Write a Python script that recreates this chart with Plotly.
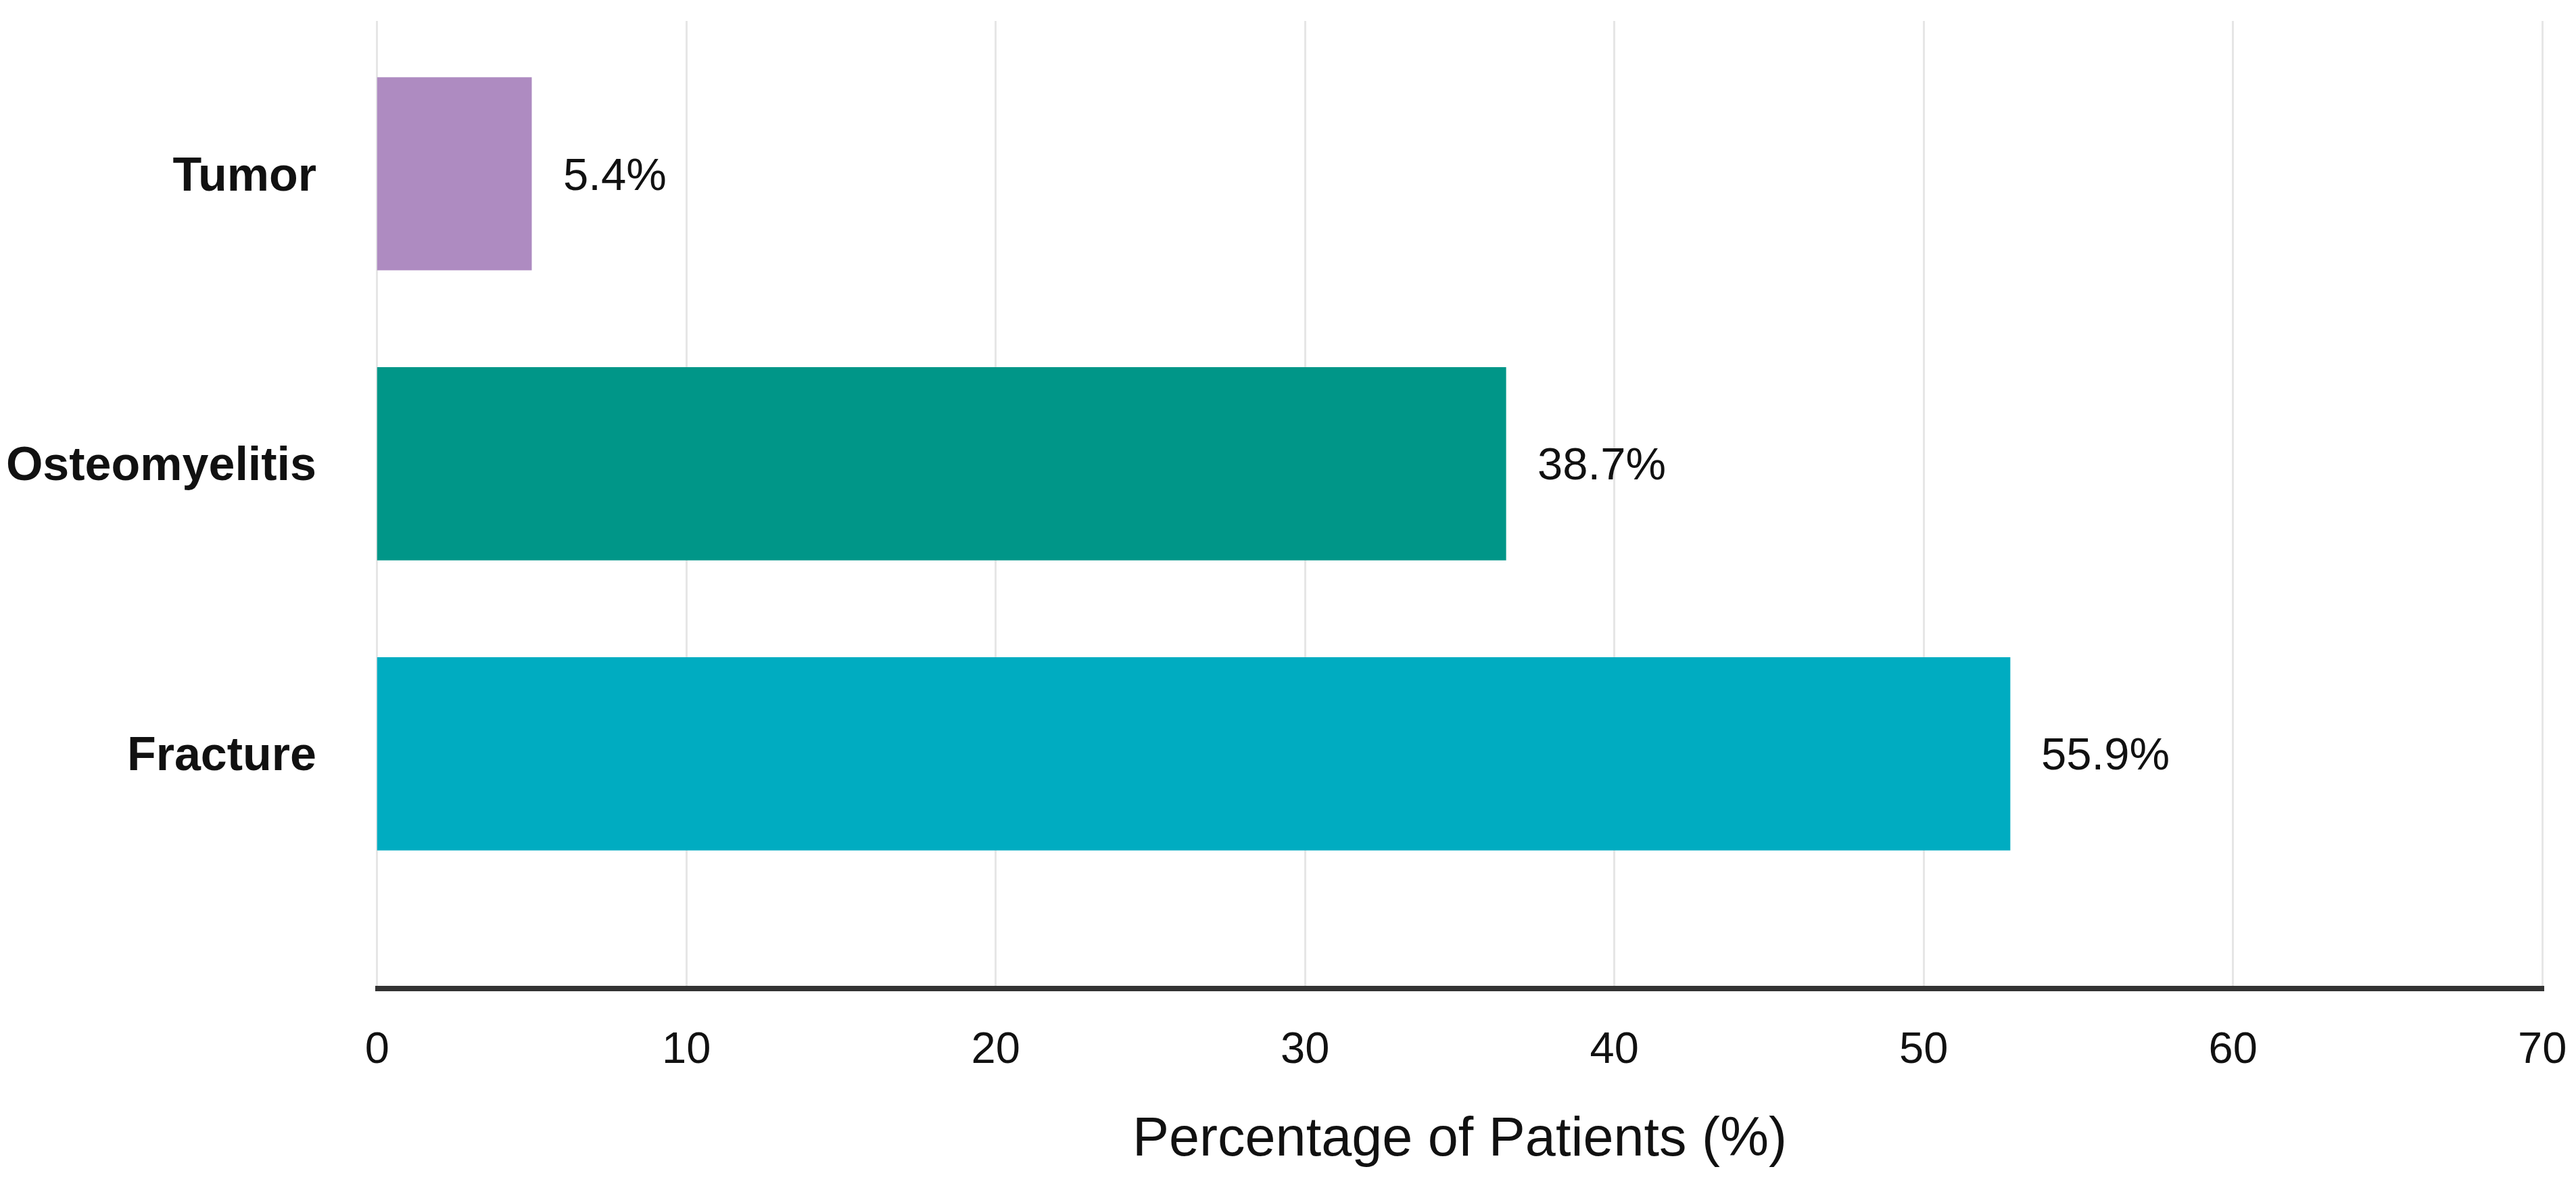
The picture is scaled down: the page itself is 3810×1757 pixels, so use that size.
import plotly.graph_objects as go

categories = ["Fracture", "Osteomyelitis", "Tumor"]
bar_values = [52.8, 36.5, 5.0]
value_labels = ["55.9%", "38.7%", "5.4%"]
bar_colors = ["#00ACC1", "#009688", "#AE8BC1"]
x_ticks = [0, 10, 20, 30, 40, 50, 60, 70]

FONT = "Liberation Sans, Arial, sans-serif"

fig = go.Figure()
fig.add_trace(go.Bar(
    y=categories,
    x=bar_values,
    orientation="h",
    marker=dict(color=bar_colors, line=dict(width=0)),
    width=0.666,
    hoverinfo="skip",
    showlegend=False,
))

for cat, v, lab in zip(categories, bar_values, value_labels):
    fig.add_annotation(
        x=v, y=cat, text=lab, showarrow=False,
        xanchor="left", yanchor="middle", xshift=44,
        font=dict(family=FONT, size=67, color="#111111"),
    )

fig.update_layout(
    width=3810, height=1757,
    paper_bgcolor="white", plot_bgcolor="white",
    margin=dict(l=547, r=55, t=23, b=307, autoexpand=False),
    font=dict(family=FONT, color="#111111"),
    bargap=0.334,
)

fig.update_xaxes(
    range=[-0.06, 70.06],
    tickvals=x_ticks,
    ticktext=[str(t) for t in x_ticks],
    showgrid=True, gridcolor="#E6E6E6", gridwidth=3,
    zeroline=False,
    showline=True, linecolor="#333333", linewidth=8,
    ticks="outside", ticklen=28, tickcolor="rgba(0,0,0,0)",
    tickfont=dict(family=FONT, size=65, color="#111111"),
    title=dict(text="Percentage of Patients (%)", standoff=70,
               font=dict(family=FONT, size=81, color="#111111")),
)

fig.update_yaxes(
    range=[-0.8, 2.527],
    categoryorder="array", categoryarray=categories,
    showgrid=False, zeroline=False, showline=False,
    ticks="outside", ticklen=72, tickcolor="rgba(0,0,0,0)",
    tickfont=dict(family=FONT, size=70, color="#111111", weight="bold"),
)

fig.write_html("out.html")
